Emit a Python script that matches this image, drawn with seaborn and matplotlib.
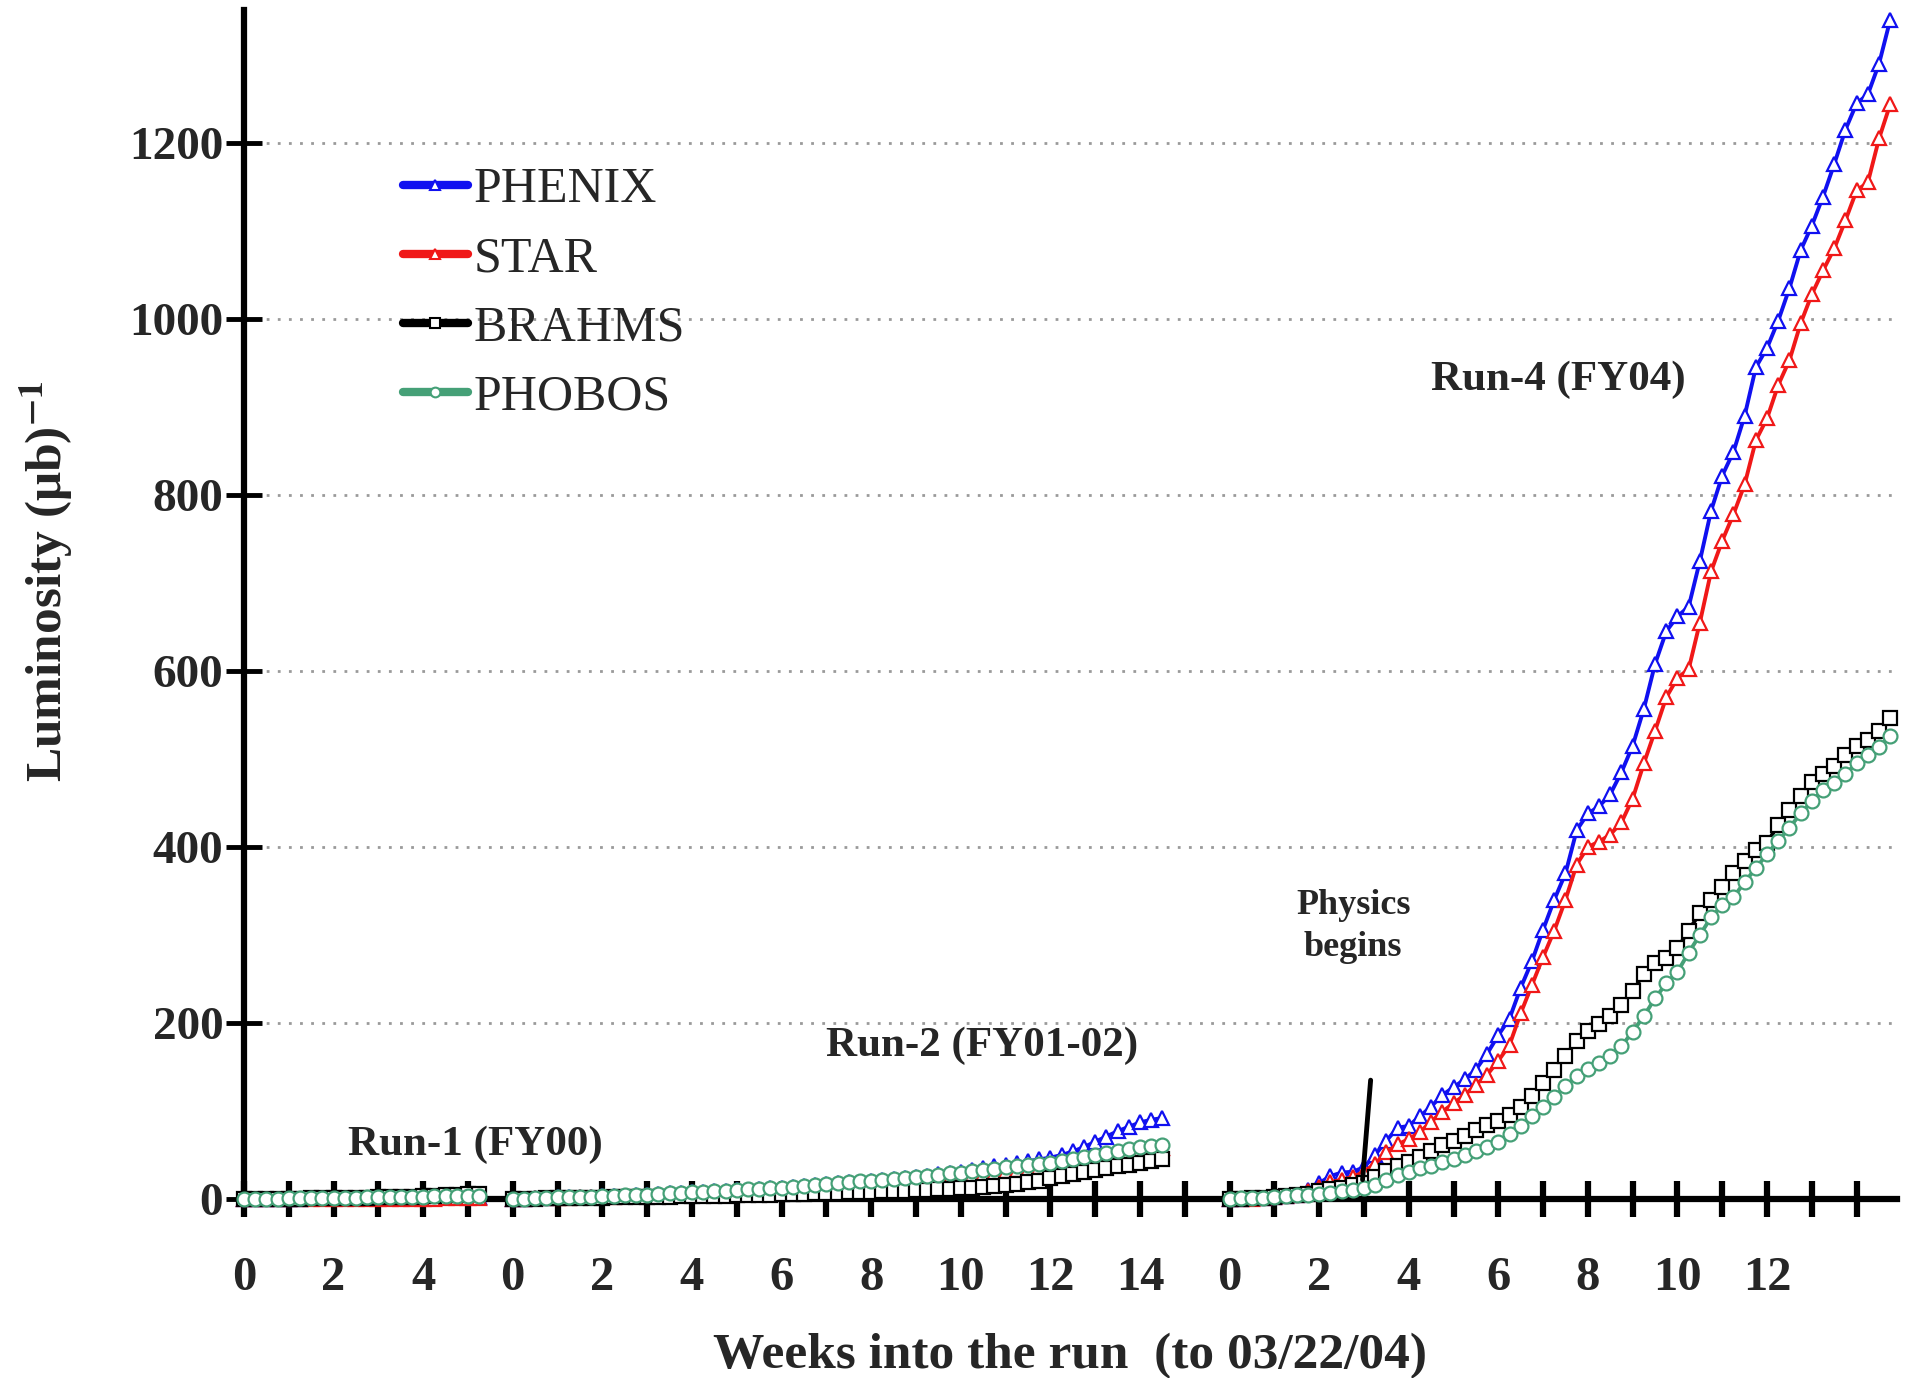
import numpy as np
import pandas as pd
import matplotlib
matplotlib.use("Agg")
import matplotlib.pyplot as plt
import seaborn as sns
from matplotlib.lines import Line2D

# ---------------- data ----------------
detectors = ["PHENIX", "STAR", "BRAHMS", "PHOBOS"]
run_names = ["Run-1 (FY00)", "Run-2 (FY01-02)", "Run-4 (FY04)"]
run_offsets = [0, 6, 22]          # start week of each run on the shared axis
week_step = 0.25                  # sampling interval of the readings (weeks)

run1_phenix = [0, 0.1, 0.2, 0.3, 0.4, 0.5, 0.6, 0.7, 0.8, 0.9, 1.0, 1.1, 1.2, 1.4, 1.5, 1.7, 1.8, 2.0, 2.2, 2.4, 2.6, 2.8]
run1_star = [0, 0, 0, 0, 0.1, 0.1, 0.1, 0.2, 0.2, 0.2, 0.3, 0.3, 0.3, 0.4, 0.4, 0.5, 0.5, 0.5, 0.6, 0.6, 0.7, 0.7]
run1_brahms = [0, 0.1, 0.2, 0.3, 0.4, 0.5, 0.6, 0.8, 1.0, 1.2, 1.4, 1.6, 1.8, 2.0, 2.3, 2.6, 2.9, 3.3, 4.2, 5.0, 5.6, 6.0]
run1_phobos = [0, 0.2, 0.3, 0.5, 0.6, 0.8, 1.0, 1.1, 1.3, 1.4, 1.6, 1.8, 2.0, 2.1, 2.3, 2.5, 2.7, 2.9, 3.1, 3.3, 3.5, 3.7]

run2_phenix = [0, 0.4, 0.9, 1.4, 1.9, 2.1, 2.4, 2.7, 2.9, 3.4, 3.9, 4.4, 4.9, 5.6, 6.3, 7.0,
               7.8, 8.3, 8.8, 9.3, 9.8, 10.6, 11.3, 12.0, 12.8, 13.8, 14.8, 15.8, 16.8, 17.8, 18.8, 19.8,
               20.8, 21.8, 22.8, 23.8, 25, 26.5, 28, 29.5, 31, 33, 35, 37, 39, 41, 43, 45,
               47, 50, 54, 59, 65, 71, 77, 82, 87, 90, 92]
run2_star = [0, 0.3, 0.7, 1.1, 1.5, 1.7, 1.9, 2.1, 2.3, 2.7, 3.1, 3.5, 3.9, 4.5, 5.0, 5.6,
             6.3, 6.7, 7.1, 7.5, 7.9, 8.5, 9.1, 9.7, 10.3, 11.1, 11.9, 12.7, 13.5, 14.3, 15.1, 15.9,
             16.7, 17.5, 18.3, 19.1, 20, 21, 22.5, 24, 25.5, 27, 28.5, 30, 31.5, 33, 34.5, 36,
             37.5, 39.5, 42, 44.5, 47, 49.5, 52, 54, 56, 57.5, 58.5]
run2_brahms = [0, 0.2, 0.4, 0.6, 0.8, 1.0, 1.2, 1.4, 1.6, 1.8, 2.0, 2.2, 2.4, 2.6, 2.8, 3.0,
               3.2, 3.4, 3.6, 3.8, 4.0, 4.3, 4.6, 4.9, 5.2, 5.6, 6.0, 6.4, 6.8, 7.2, 7.6, 8.0,
               8.4, 8.8, 9.2, 9.6, 10, 10.5, 11, 11.5, 12, 12.8, 13.6, 14.4, 15.5, 17, 19, 21,
               24, 26, 28.5, 31, 33, 35, 37, 39, 41, 43, 45]
run2_phobos = [0, 0.5, 1, 1.5, 2, 2.2, 2.5, 2.8, 3, 3.5, 4, 4.5, 5, 5.8, 6.5, 7.2,
               8, 8.5, 9, 9.5, 10, 10.8, 11.5, 12.2, 13, 14, 15, 16, 17, 18, 19, 20,
               21, 22, 23, 24, 25, 26, 27.5, 29, 30, 31.5, 33, 34.5, 36, 37, 38.5, 40,
               41, 43, 45.5, 48, 50, 52.5, 55, 57, 59, 60, 61]

run4_phenix = [0, 0, 1, 1, 2, 3, 5, 10, 18, 26, 30, 31, 36, 50, 66, 81, 83, 94, 105, 118,
               127, 136, 147, 165, 186, 205, 240, 270, 306, 340, 370, 419, 438, 446, 460, 485,
               515, 557, 608, 645, 662, 673, 725, 782, 822, 849, 890, 945, 967, 998, 1035, 1078,
               1106, 1139, 1176, 1215, 1245, 1255, 1290, 1340]
run4_star = [0, 0, 0, 1, 2, 3, 5, 9, 14, 19, 22, 25, 31, 40, 53, 62, 68, 76, 88, 99,
             109, 118, 130, 141, 157, 175, 211, 243, 275, 305, 340, 380, 400, 406, 414, 428,
             455, 495, 532, 570, 592, 602, 655, 713, 748, 778, 812, 862, 887, 925, 953, 995,
             1028, 1055, 1080, 1112, 1146, 1155, 1205, 1244]
run4_brahms = [0, 0, 1, 1, 2, 3, 4, 6, 9, 11, 13, 16, 18, 25, 32, 37, 42, 48, 55, 61,
               66, 72, 78, 84, 89, 96, 105, 117, 132, 147, 163, 180, 191, 199, 208, 220,
               236, 256, 268, 274, 285, 305, 325, 340, 355, 370, 384, 396, 405, 425, 442, 458,
               474, 483, 492, 504, 515, 522, 532, 547]
run4_phobos = [0, 1, 1, 1, 2, 3, 4, 5, 6, 7, 9, 10, 12, 16, 22, 27, 31, 35, 38, 42,
               46, 50, 54, 59, 65, 74, 83, 94, 104, 116, 128, 140, 148, 154, 163, 174,
               190, 208, 228, 245, 258, 280, 300, 320, 334, 343, 360, 376, 392, 407, 422, 438,
               452, 465, 473, 483, 495, 505, 514, 526]

# tick labels for each whole week on the shared axis (0..36)
xtick_labels = ["0", "", "2", "", "4", "",
                "0", "", "2", "", "4", "", "6", "", "8", "", "10", "", "12", "", "14", "",
                "0", "", "2", "", "4", "", "6", "", "8", "", "10", "", "12", "", ""]
ytick_values = [0, 200, 400, 600, 800, 1000, 1200]

physics_line_x = [25.15, 24.97]
physics_line_y = [135, 22]

# ---------------- build table ----------------
series = {
    run_names[0]: dict(PHENIX=run1_phenix, STAR=run1_star, BRAHMS=run1_brahms, PHOBOS=run1_phobos),
    run_names[1]: dict(PHENIX=run2_phenix, STAR=run2_star, BRAHMS=run2_brahms, PHOBOS=run2_phobos),
    run_names[2]: dict(PHENIX=run4_phenix, STAR=run4_star, BRAHMS=run4_brahms, PHOBOS=run4_phobos),
}
rows = []
for run, off in zip(run_names, run_offsets):
    for det in detectors:
        for k, v in enumerate(series[run][det]):
            rows.append(dict(run=run, detector=det, week=off + k * week_step, lum=v))
df = pd.DataFrame(rows)

# ---------------- style ----------------
sns.set_style("white")
plt.rcParams["font.family"] = ["Liberation Serif", "DejaVu Serif"]
plt.rcParams["mathtext.fontset"] = "stix"

colors = {"PHENIX": "#1010f0", "STAR": "#f01818", "BRAHMS": "#000000", "PHOBOS": "#45a077"}
markers = {"PHENIX": "^", "STAR": "^", "BRAHMS": "s", "PHOBOS": "o"}
msize = {"PHENIX": 10.5, "STAR": 10.5, "BRAHMS": 9.5, "PHOBOS": 10}

fig = plt.figure(figsize=(19.15, 13.78), dpi=100)
ax = fig.add_axes([0.1274, 0.1299, 0.8632, 0.8629])

for det in detectors:
    sub = df[df["detector"] == det]
    sns.lineplot(data=sub, x="week", y="lum", units="run", estimator=None, sort=False,
                 ax=ax, color=colors[det], lw=2.8, marker=markers[det], markersize=msize[det],
                 markerfacecolor="white", markeredgecolor=colors[det], markeredgewidth=1.6,
                 clip_on=False, zorder=3, legend=False)

ax.plot(physics_line_x, physics_line_y, color="black", lw=3.5, zorder=4, clip_on=False)

ax.set_xlim(0, 36.9)
ax.set_ylim(0, 1351)
ax.set_xticks(range(len(xtick_labels)))
ax.set_xticklabels(xtick_labels, fontsize=35, fontweight="bold")
ax.set_yticks(ytick_values)
ax.set_yticklabels([str(v) for v in ytick_values], fontsize=34, fontweight="bold")
ax.tick_params(axis="x", which="major", bottom=True, direction="inout", length=26, width=4.5,
               pad=28, color="black")
ax.tick_params(axis="y", which="major", left=True, direction="inout", length=26, width=3.5,
               pad=2, color="black")

ax.yaxis.grid(True, linestyle=(0, (1, 3)), color="#9a9a9a", lw=2)
ax.xaxis.grid(False)
ax.set_axisbelow(True)
for s in ["top", "right"]:
    ax.spines[s].set_visible(False)
for s in ["left", "bottom"]:
    ax.spines[s].set_linewidth(4.5)
    ax.spines[s].set_color("black")

ax.set_xlabel("Weeks into the run  (to 03/22/04)", fontsize=37, fontweight="bold")
ax.xaxis.set_label_coords(0.4997, -0.113)
ax.set_ylabel(r"Luminosity (μb)$^{\mathbf{-1}}$", fontsize=37, fontweight="bold")
ax.yaxis.set_label_coords(-0.102, 0.52)

ax.text(5.17, 62, "Run-1 (FY00)", ha="center", va="center", fontsize=31, fontweight="bold")
ax.text(16.47, 174, "Run-2 (FY01-02)", ha="center", va="center", fontsize=31, fontweight="bold")
ax.text(29.33, 931, "Run-4 (FY04)", ha="center", va="center", fontsize=31, fontweight="bold")
ax.text(24.76, 310, "Physics\nbegins", ha="center", va="center", fontsize=26, fontweight="bold",
        linespacing=1.35)

handles = [Line2D([0], [0], color=colors[d], lw=6, marker=markers[d], markersize=7,
                  markerfacecolor="white", markeredgecolor=colors[d], markeredgewidth=1.5)
           for d in detectors]
ax.legend(handles, detectors, loc="upper left", bbox_to_anchor=(0.096, 0.868), frameon=False,
          fontsize=36, handlelength=1.3, handletextpad=0.12, labelspacing=0.45,
          borderpad=0, borderaxespad=0)

fig.savefig("out.png", dpi=100)
